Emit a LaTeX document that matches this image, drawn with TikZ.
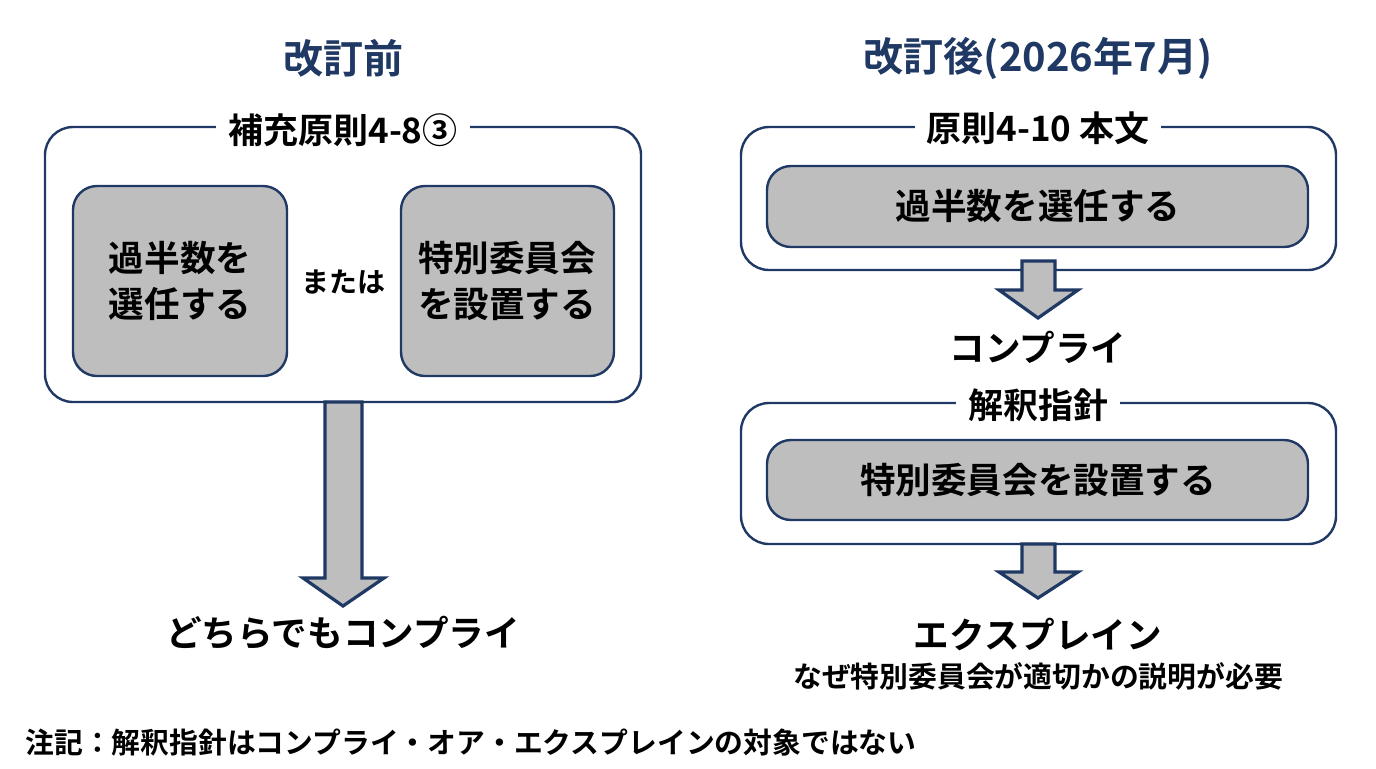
\documentclass[tikz,border=0pt]{standalone}
\usepackage{fontspec}
\setmainfont{Noto Sans CJK JP}[BoldFont={Noto Sans CJK JP Bold}]
\usetikzlibrary{positioning}
\definecolor{navy}{HTML}{1F3864}
\definecolor{boxgray}{HTML}{BEBEBE}
\tikzset{
  outer/.style = {draw=navy, line width=1.2pt, rounded corners=14pt},
  inner/.style = {draw=navy, line width=1.2pt, rounded corners=12pt, fill=boxgray},
  tag/.style = {fill=white, inner xsep=6pt, font=\bfseries\fontsize{17.5}{20}\selectfont},
  txt/.style = {font=\bfseries\fontsize{17.8}{23}\selectfont, align=center},
  head/.style = {text=navy, font=\bfseries\fontsize{20}{24}\selectfont},
  small/.style = {font=\bfseries\fontsize{14.4}{17}\selectfont},
  bigarrow/.style = {draw=navy, line width=1.6pt, fill=boxgray, line join=miter}
}
\begin{document}
\begin{tikzpicture}[x=0.5pt,y=-0.5pt]
  \useasboundingbox (0,0) rectangle (1376,768);
  % before
  \node[head] (t1) at (343,58) {改訂前};
  \draw[outer] (45,127) rectangle (641,402);
  \node[tag] (l1) at (343,130) {補充原則4-8③};
  \draw[inner] (73,186) rectangle (287,376);
  \node[txt] (a1) at (180,281) {過半数を\\選任する};
  \draw[inner] (401,186) rectangle (614,376);
  \node[txt] (a2) at (507,281) {特別委員会\\を設置する};
  \node[font=\bfseries\fontsize{14}{16}\selectfont] (or) at (343,282) {または};
  \draw[bigarrow] (325,402) -- (362,402) -- (362,578) -- (384,578) -- (343,606)
    -- (303,578) -- (325,578) -- cycle;
  \node[txt] (r1) at (343,633) {どちらでもコンプライ};
  % after
  \node[head] (t2) at (1038,58) {改訂後(2026年7月)};
  \draw[outer] (741,127) rectangle (1336,270);
  \node[tag] (l2) at (1038,128) {原則4-10 本文};
  \draw[inner] (767,166) rectangle (1308,247);
  \node[txt] (b1) at (1038,206) {過半数を選任する};
  \draw[bigarrow] (1022,261) -- (1055,261) -- (1055,290) -- (1078,290) -- (1038,318)
    -- (999,290) -- (1022,290) -- cycle;
  \node[txt] (r2) at (1038,347) {コンプライ};
  \draw[outer] (741,403) rectangle (1336,544);
  \node[tag] (l3) at (1038,405) {解釈指針};
  \draw[inner] (767,440) rectangle (1308,520);
  \node[txt] (b2) at (1038,480) {特別委員会を設置する};
  \draw[bigarrow] (1022,544) -- (1055,544) -- (1055,572) -- (1078,572) -- (1038,598)
    -- (999,572) -- (1022,572) -- cycle;
  \node[txt] (r3) at (1038,634) {エクスプレイン};
  \node[small] (why) at (1038,676) {なぜ特別委員会が適切かの説明が必要};
  \node[small, anchor=west, inner xsep=0pt] (note) at (25,743)
    {注記：解釈指針はコンプライ・オア・エクスプレインの対象ではない};
\end{tikzpicture}
\end{document}
